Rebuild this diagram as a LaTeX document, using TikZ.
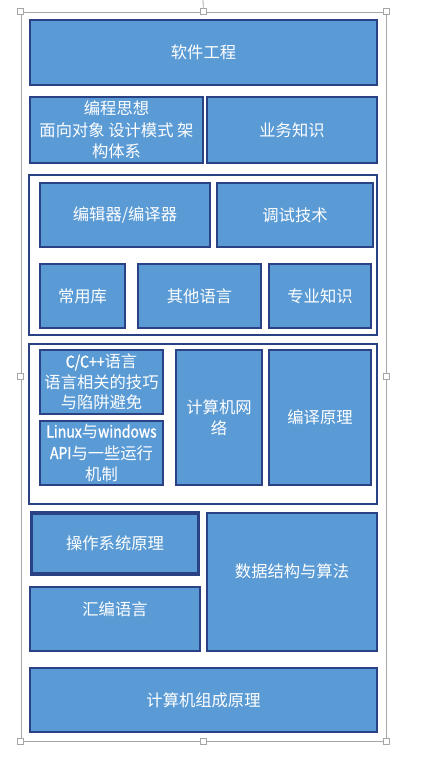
\documentclass[tikz,border=0pt]{standalone}
\usepackage{fontspec}
\setmainfont{Noto Sans CJK SC}
\newfontfamily\latn[FakeStretch=0.86, FakeBold=1.2]{Noto Sans CJK SC}
\usetikzlibrary{fit}
\definecolor{boxfill}{HTML}{5B9BD5}
\definecolor{boxline}{HTML}{2A4283}
\definecolor{selgray}{HTML}{A6A6A6}
\tikzset{
  box/.style={draw=boxline, fill=boxfill, line width=2pt, inner sep=0pt},
  thickbox/.style={box, line width=3.6pt},
  grp/.style={draw=boxline, fill=white, line width=2pt, inner sep=0pt},
  txt/.style={text=white, align=center, inner sep=0pt, font=\fontsize{16.3}{21.5}\selectfont},
  handle/.style={draw=selgray, fill=white, line width=0.8pt, minimum size=6pt, inner sep=0pt},
  selframe/.style={draw=selgray, line width=0.8pt}
}
\begin{document}
\begin{tikzpicture}[x=1pt,y=-1pt]
\useasboundingbox (0,0) rectangle (439,766);
\fill[white] (0,0) rectangle (439,766);
% selection frame
\coordinate (rot) at (203,0);
\node[selframe, fit={(21,12) (386,741)}, inner sep=0pt] (sel) {};
\draw[selframe] (rot) -- (sel.north);
% boxes
\node[box, fit={(30,20) (377,85)}, label={[txt]center:软件工程}] (se) {};
\node[box, fit={(30,97) (203,163)}, label={[txt]center:编程思想\\面向对象 设计模式 架\\构体系}] (bc) {};
\node[box, fit={(207,97) (377,163)}, label={[txt]center:业务知识}] (yw) {};
% group 1
\node[grp, fit={(29,175) (377,335)}] (g1) {};
\node[box, fit={(40,183) (210,247)}, label={[txt]center:编辑器/编译器}] (bjq) {};
\node[box, fit={(217,183) (373,247)}, label={[txt]center:调试技术}] (ts) {};
\node[box, fit={(40,264) (125,328)}, label={[txt]center:常用库}] (cyk) {};
\node[box, fit={(138,264) (261,328)}, label={[txt]center:其他语言}] (qt) {};
\node[box, fit={(269,264) (371,328)}, label={[txt]center:专业知识}] (zy) {};
% group 2
\node[grp, fit={(29,344) (377,504)}] (g2) {};
\node[box, fit={(40,350) (163,414)}, label={[txt, font=\fontsize{16.3}{20.5}\selectfont]center:{\latn C/C++}语言\\语言相关的技巧\\与陷阱避免}] (cpp) {};
\node[box, fit={(40,421) (163,485)}, label={[txt]center:{\latn Linux}与{\latn windows}\\{\latn API}与一些运行\\机制}] (lx) {};
\node[box, fit={(176,350) (262,485)}, label={[txt]center:计算机网\\络}] (wl) {};
\node[box, fit={(269,350) (371,485)}, label={[txt]center:编译原理}] (by) {};
% bottom
\node[thickbox, fit={(31.5,513) (198.5,574)}, label={[txt]center:操作系统原理}] (os) {};
\node[box, fit={(30,587) (200,651)}, label={[txt, yshift=10pt]center:汇编语言}] (hb) {};
\node[box, fit={(207,513) (377,651)}, label={[txt, yshift=11pt]center:数据结构与算法}] (ds) {};
\node[box, fit={(30,668) (377,732)}, label={[txt]center:计算机组成原理}] (zc) {};
% handles
\foreach \a in {north west,north,north east,west,east,south west,south,south east}
  \node[handle] at (sel.\a) {};
\end{tikzpicture}
\end{document}
